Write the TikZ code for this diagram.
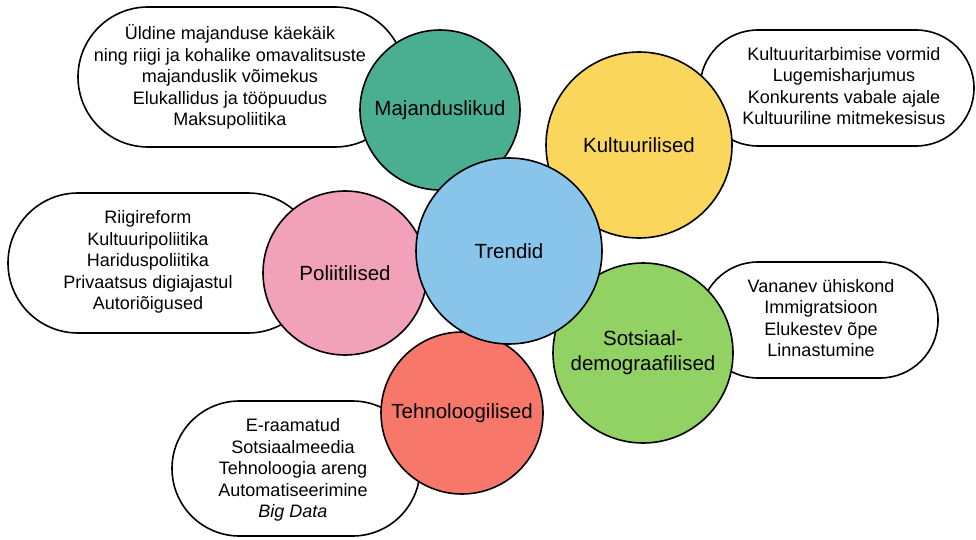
\documentclass[tikz,border=0pt]{standalone}
\usepackage{fontspec}
\setmainfont{Liberation Sans}
\definecolor{trendblue}{RGB}{137,196,235}
\definecolor{majteal}{RGB}{74,175,144}
\definecolor{kulyellow}{RGB}{250,214,92}
\definecolor{polpink}{RGB}{241,161,186}
\definecolor{sotgreen}{RGB}{146,210,100}
\definecolor{tehred}{RGB}{247,120,107}
\begin{document}
\begin{tikzpicture}[x=1pt,y=-1pt,
  listbox/.style={rectangle,draw=black,fill=white,line width=1.6pt,inner sep=0pt},
  listtext/.style={align=center,inner sep=0pt,font=\fontsize{18}{21.6}\selectfont},
  trendball/.style={circle,draw=black,line width=1.6pt,inner sep=0pt,align=center,font=\fontsize{20.5}{24.8}\selectfont}]
\useasboundingbox (0,0) rectangle (976,540);
\node[listbox,rounded corners=70pt,minimum width=327pt,minimum height=140pt] (majbox) at (241.5,77) {};
\node[listtext] (majtext) at (230,77) {\"Uldine majanduse k\"aek\"aik\\ning riigi ja kohalike omavalitsuste\\majanduslik v\~oimekus\\Elukallidus ja t\"o\"opuudus\\Maksupoliitika};
\node[listbox,rounded corners=58pt,minimum width=274pt,minimum height=116pt] (kulbox) at (837,88) {};
\node[listtext] (kultext) at (844,86) {Kultuuritarbimise vormid\\Lugemisharjumus\\Konkurents vabale ajale\\Kultuuriline mitmekesisus};
\node[listbox,rounded corners=70pt,minimum width=310pt,minimum height=140pt] (polbox) at (163,263) {};
\node[listtext] (poltext) at (148,262) {Riigireform\\Kultuuripoliitika\\Hariduspoliitika\\Privaatsus digiajastul\\Autori\~oigused};
\node[listbox,rounded corners=58pt,minimum width=238pt,minimum height=116pt] (sotbox) at (819,320) {};
\node[listtext] (sottext) at (821,318) {Vananev \"uhiskond\\Immigratsioon\\Elukestev \~ope\\Linnastumine};
\node[listbox,rounded corners=67.5pt,minimum width=248pt,minimum height=135pt] (tehbox) at (296,468.5) {};
\node[listtext] (tehtext) at (293,470) {E-raamatud\\Sotsiaalmeedia\\Tehnoloogia areng\\Automatiseerimine\\\textit{Big Data}};
\node[trendball,fill=majteal,minimum size=160pt] (majandus) at (440,110) {Majanduslikud};
\node[trendball,fill=kulyellow,minimum size=186pt] (kultuur) at (639,145) {Kultuurilised};
\node[trendball,fill=polpink,minimum size=164pt] (poliitika) at (345,273) {Poliitilised};
\node[trendball,fill=sotgreen,minimum size=180pt] (sotsiaal) at (643,353) {Sotsiaal-\\demograafilised};
\node[trendball,fill=tehred,minimum size=162pt] (tehnoloogia) at (462,413) {Tehnoloogilised};
\node[trendball,fill=trendblue,minimum size=186pt] (trendid) at (509,251) {Trendid};
\end{tikzpicture}
\end{document}
